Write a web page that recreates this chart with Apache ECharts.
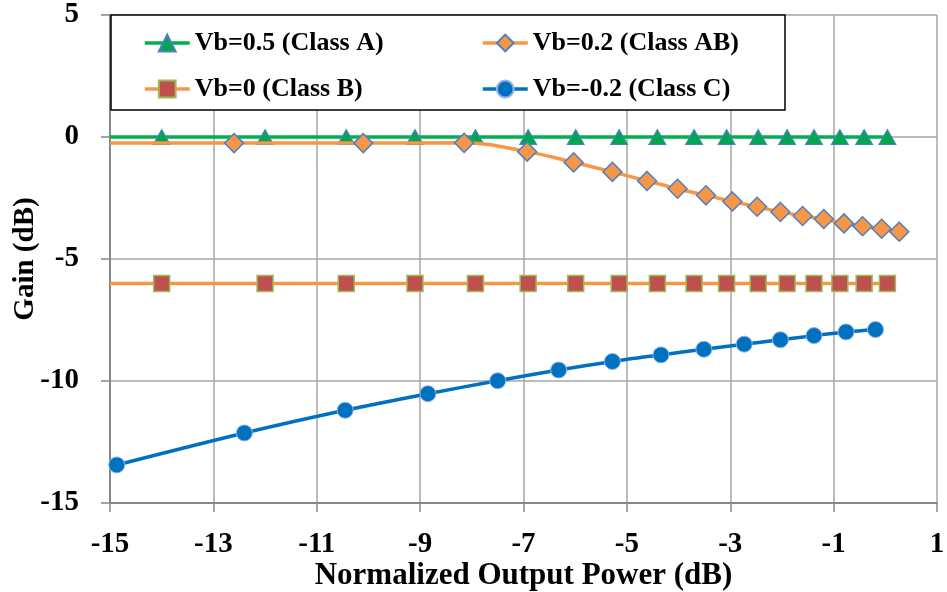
<html>
<head>
    <meta charset="utf-8">
    <script src="https://cdn.jsdelivr.net/npm/echarts@6/dist/echarts.min.js"></script>
    <style>
        html, body { margin: 0; padding: 0; background: #fff; }
        #main { width: 947px; height: 592px; }
    </style>
</head>
<body>
<div id="main"></div>
<script>
    // x = normalized output power (dB), y = gain (dB)
    var powerA = [-15, -14, -12, -10.43, -9.1, -7.93, -6.91, -5.99, -5.15, -4.41, -3.7, -3.07, -2.46, -1.9, -1.38, -0.88, -0.41, 0.04];
    var gainA = [0, 0, 0, 0, 0, 0, 0, 0, 0, 0, 0, 0, 0, 0, 0, 0, 0, 0];

    var powerAB = [-15, -12.6, -10.1, -8.15, -6.93, -6.03, -5.28, -4.61, -4.02, -3.47, -2.96, -2.48, -2.03, -1.6, -1.19, -0.8, -0.44, -0.07, 0.27];
    var gainAB = [-0.25, -0.25, -0.25, -0.24, -0.6, -1.04, -1.43, -1.8, -2.12, -2.39, -2.64, -2.86, -3.07, -3.24, -3.36, -3.54, -3.66, -3.76, -3.88];

    var powerB = [-15, -14, -12, -10.43, -9.1, -7.93, -6.91, -5.99, -5.15, -4.41, -3.7, -3.07, -2.46, -1.9, -1.38, -0.88, -0.41, 0.04];
    var gainB = [-6, -6, -6, -6, -6, -6, -6, -6, -6, -6, -6, -6, -6, -6, -6, -6, -6, -6];

    var powerC = [-14.87, -12.4, -10.45, -8.85, -7.5, -6.32, -5.28, -4.34, -3.51, -2.73, -2.03, -1.38, -0.76, -0.19];
    var gainC = [-13.44, -12.13, -11.2, -10.52, -9.99, -9.55, -9.2, -8.93, -8.7, -8.49, -8.31, -8.14, -7.99, -7.89];

    var names = ['Vb=0.5 (Class A)', 'Vb=0.2 (Class AB)', 'Vb=0 (Class B)', 'Vb=-0.2 (Class C)'];

    var font = "'Liberation Serif', 'Times New Roman', serif";

    // the curves start at the left axis, the markers only where measured
    var toData = function (xs, ys) {
        return xs.map(function (x, i) {
            if (i === 0 && x === -15) {
                return {value: [x, ys[i]], symbol: 'none'};
            }
            return [x, ys[i]];
        });
    };

    var chart = echarts.init(document.getElementById('main'));

    var legendText = {
        fontFamily: font,
        fontWeight: 'bold',
        fontSize: 26,
        color: '#000'
    };

    var legendBase = {
        orient: 'vertical',
        top: 25,
        itemWidth: 45,
        itemHeight: 21,
        itemGap: 20,
        lineStyle: {width: 3.5},
        textStyle: legendText,
        z: 5
    };

    var option = {
        animation: false,
        backgroundColor: '#fff',
        grid: {
            left: 110,
            right: 10,
            top: 15,
            bottom: 89,
            outerBoundsMode: 'none'
        },
        graphic: [{
            type: 'rect',
            z: 3,
            shape: {x: 111, y: 15, width: 674, height: 95},
            style: {fill: '#fff', stroke: '#000', lineWidth: 1.5}
        }],
        legend: [
            Object.assign({}, legendBase, {left: 138, data: [names[0], names[2]]}),
            Object.assign({}, legendBase, {left: 476, data: [names[1], names[3]]})
        ],
        xAxis: {
            type: 'value',
            min: -15,
            max: 1,
            interval: 2,
            name: 'Normalized Output Power (dB)',
            nameLocation: 'middle',
            nameGap: 57,
            nameMoveOverlap: false,
            nameTextStyle: {
                fontFamily: font,
                fontWeight: 'bold',
                fontSize: 31,
                color: '#000'
            },
            axisLine: {onZero: false, lineStyle: {color: '#868686', width: 2}},
            axisTick: {show: true, length: 9, lineStyle: {color: '#868686', width: 1.5}},
            axisLabel: {
                margin: 27,
                fontFamily: font,
                fontWeight: 'bold',
                fontSize: 29,
                color: '#000'
            },
            splitLine: {show: true, lineStyle: {color: '#a6a6a6', width: 1.5}}
        },
        yAxis: {
            type: 'value',
            min: -15,
            max: 5,
            interval: 5,
            name: 'Gain (dB)',
            nameLocation: 'middle',
            nameGap: 70,
            nameMoveOverlap: false,
            nameTextStyle: {
                fontFamily: font,
                fontWeight: 'bold',
                fontSize: 29,
                color: '#000'
            },
            axisLine: {show: true, onZero: false, lineStyle: {color: '#868686', width: 2}},
            axisTick: {show: true, length: 9, lineStyle: {color: '#868686', width: 1.5}},
            axisLabel: {
                margin: 31,
                fontFamily: font,
                fontWeight: 'bold',
                fontSize: 29,
                color: '#000'
            },
            splitLine: {show: true, lineStyle: {color: '#a6a6a6', width: 1.5}}
        },
        series: [
            {
                name: names[0],
                type: 'line',
                data: toData(powerA, gainA),
                symbol: 'triangle',
                symbolSize: [17, 15],
                lineStyle: {color: '#00B050', width: 3.5},
                itemStyle: {color: '#00A651', borderColor: '#4F81BD', borderWidth: 1},
                z: 3
            },
            {
                name: names[1],
                type: 'line',
                data: toData(powerAB, gainAB),
                smooth: 0.4,
                symbol: 'diamond',
                symbolSize: 19,
                lineStyle: {color: '#F79646', width: 3.5},
                itemStyle: {color: '#F79646', borderColor: '#4F81BD', borderWidth: 1.5},
                z: 4
            },
            {
                name: names[2],
                type: 'line',
                data: toData(powerB, gainB),
                symbol: 'rect',
                symbolSize: 16,
                lineStyle: {color: '#F79646', width: 3.5},
                itemStyle: {color: '#C0504D', borderColor: '#9BBB59', borderWidth: 1.5},
                z: 3
            },
            {
                name: names[3],
                type: 'line',
                data: toData(powerC, gainC),
                smooth: 0.3,
                symbol: 'circle',
                symbolSize: 16,
                lineStyle: {color: '#0070C0', width: 3.5},
                itemStyle: {color: '#0070C0', borderColor: '#8EB4E3', borderWidth: 1},
                z: 3
            }
        ]
    };

    chart.setOption(option);
</script>
</body>
</html>
